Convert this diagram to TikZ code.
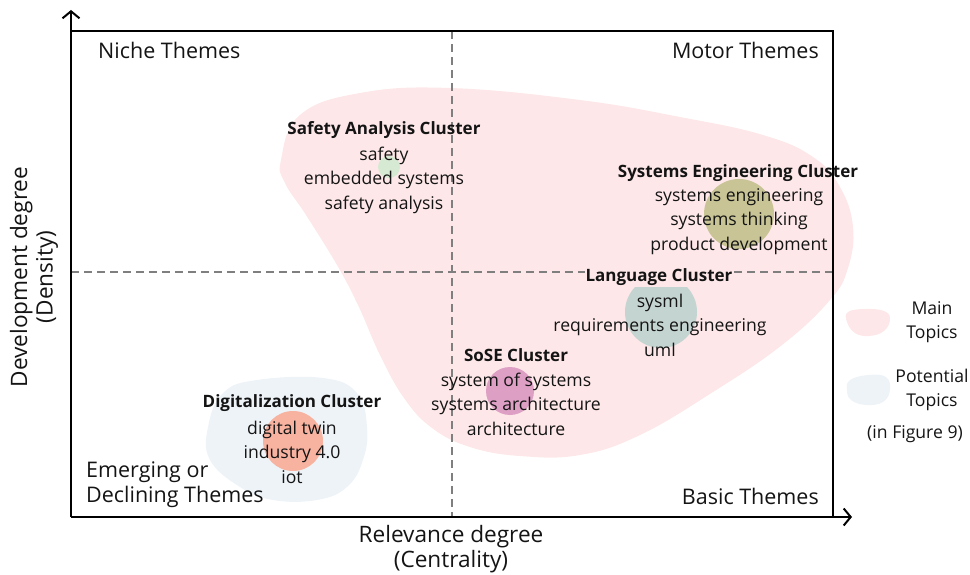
\documentclass[tikz,border=0pt]{standalone}
\usepackage{fontspec}
\setmainfont{Open Sans}
\usetikzlibrary{arrows.meta}
\definecolor{pinkbg}{HTML}{FDE7E8}
\definecolor{bluebg}{HTML}{EEF3F8}
\definecolor{cgreen}{HTML}{D6EAD3}
\definecolor{colive}{HTML}{C8C496}
\definecolor{cteal}{HTML}{C4D4D0}
\definecolor{cpurple}{HTML}{DDA0C4}
\definecolor{csalmon}{HTML}{F7B2A0}
\definecolor{dashgray}{HTML}{7F7F7F}
\definecolor{txt}{HTML}{141414}
\tikzset{
  every node/.style={text=txt},
  quad/.style={font=\fontsize{21.5}{25}\selectfont, inner sep=0pt},
  ctitle/.style={font=\fontsize{17}{20}\selectfont\bfseries, inner sep=1pt},
  cbody/.style={font=\fontsize{17.6}{24.5}\selectfont, align=center, inner sep=0pt},
  axlabel/.style={font=\fontsize{22.6}{25.5}\selectfont, align=center, inner sep=0pt},
  legtext/.style={font=\fontsize{17.6}{24.5}\selectfont, align=center, inner sep=0pt},
  frameline/.style={line width=2.4pt, black},
  quadline/.style={dashgray, line width=1.3pt, dash pattern=on 8pt off 5pt},
  bubble/.style={circle, inner sep=0pt}
}
\begin{document}
\begin{tikzpicture}[x=1pt,y=-1pt]
\useasboundingbox (0,0) rectangle (970,575);
% topic regions
\fill[pinkbg] plot[smooth cycle, tension=0.7] coordinates {(281,160) (300,115) (360,93) (450,88) (580,100) (680,117) (763,135) (813,157) (840,187) (853,227) (848,268) (830,300) (782,345) (713,392) (640,435) (580,455) (520,456) (470,447) (432,428) (404,398) (380,355) (358,305) (337,265) (306,215) (285,183)};
\fill[bluebg] plot[smooth cycle, tension=0.7] coordinates {(257,380) (323,378) (357,393) (367,427) (363,460) (347,487) (317,500) (273,500) (240,487) (210,460) (208,427) (223,393)};
% quadrant dividers
\coordinate (vtop) at (452,31);
\coordinate (vbot) at (452,517);
\coordinate (hl) at (71,272);
\coordinate (hr) at (833,272);
\draw[quadline] (vtop) -- (vbot);
\draw[quadline] (hl) -- (hr);
% bubbles
\node[bubble, fill=cgreen, minimum size=22pt] (b1) at (389,167) {};
\node[bubble, fill=colive, minimum size=70pt] (b2) at (739,214) {};
\node[bubble, fill=cteal, minimum size=72pt] (b3) at (661,312) {};
\node[bubble, fill=cpurple, minimum size=48pt] (b4) at (510,391) {};
\node[bubble, fill=csalmon, minimum size=60pt] (b5) at (293,441) {};
% cluster texts
\node[ctitle] (t1) at (384,130) {Safety Analysis Cluster};
\node[cbody] (d1) at (384,180) {safety\\embedded systems\\safety analysis};
\node[ctitle] (t2) at (738,173) {Systems Engineering Cluster};
\node[cbody] (d2) at (739,221.5) {systems engineering\\systems thinking\\product development};
\node[ctitle, fill=pinkbg] (t3) at (659,277) {Language Cluster};
\node[cbody] (d3) at (660,325) {sysml\\requirements engineering\\uml};
\node[ctitle] (t4) at (516,355) {SoSE Cluster};
\node[cbody] (d4) at (516,404) {system of systems\\systems architecture\\architecture};
\node[ctitle] (t5) at (292,403) {Digitalization Cluster};
\node[cbody] (d5) at (292,452) {digital twin\\industry 4.0\\iot};
% frame and axes
\coordinate (o) at (71,517);
\coordinate (ytip) at (71,10);
\coordinate (xtip) at (852,517);
\coordinate (tl) at (71,31);
\coordinate (tr) at (833,31);
\coordinate (br) at (833,517);
\draw[frameline] (tl) -- (tr) -- (br);
\draw[frameline, -{Straight Barb[length=7pt,width=17pt,line width=2pt]}] (o) -- (ytip);
\draw[frameline, -{Straight Barb[length=7pt,width=17pt,line width=2pt]}] (o) -- (xtip);
% quadrant labels
\node[quad, anchor=west] (q1) at (98,50) {Niche Themes};
\node[quad, anchor=east] (q2) at (819,50) {Motor Themes};
\node[quad, anchor=west, align=left] (q3) at (86,485) {Emerging or\\Declining Themes};
\node[quad, anchor=east] (q4) at (819,496) {Basic Themes};
% axis labels
\node[axlabel] (xl) at (451,549) {Relevance degree\\(Centrality)};
\node[axlabel, rotate=90] (yl) at (34,277) {Development degree\\(Density)};
% legend
\fill[pinkbg] plot[smooth cycle, tension=0.7] coordinates {(848,312) (865,309) (884,311) (890,319) (884,331) (869,336) (855,333) (847,322)};
\fill[bluebg] plot[smooth cycle, tension=0.7] coordinates {(850,380) (868,375) (886,377) (890,390) (883,402) (866,405) (851,400) (847,390)};
\node[legtext] (l1) at (932,322) {Main\\Topics};
\node[legtext] (l2) at (932,390) {Potential\\Topics};
\node[legtext] (l3) at (915,434) {(in Figure 9)};
\end{tikzpicture}
\end{document}
